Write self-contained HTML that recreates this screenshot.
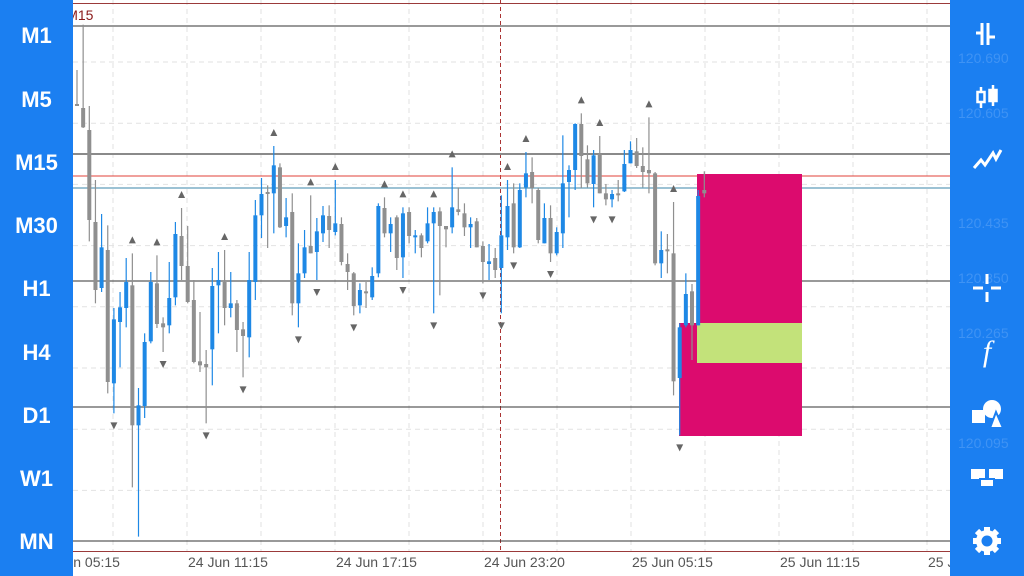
<!DOCTYPE html>
<html><head><meta charset="utf-8"><style>
html,body{margin:0;padding:0;width:1024px;height:576px;overflow:hidden;background:#fff;font-family:"Liberation Sans",sans-serif}
#chart{position:absolute;left:0;top:0}
.panel{position:absolute;top:0;height:576px;background:#1b7ff1}
.tf{position:absolute;left:0;width:73px;text-align:center;color:#fff;font-weight:bold;font-size:22px}
.ic{position:absolute;left:950px;width:74px;height:40px;display:flex;align-items:center;justify-content:center}
.pl{position:absolute;left:958px;color:#3f93f4;font-size:14px}
</style></head><body>
<svg id="chart" width="1024" height="576" xmlns="http://www.w3.org/2000/svg"></svg>

<div class="panel" style="left:0;width:73px">
<div class="tf" style="top:23px">M1</div>
<div class="tf" style="top:87px">M5</div>
<div class="tf" style="top:150px">M15</div>
<div class="tf" style="top:213px">M30</div>
<div class="tf" style="top:276px">H1</div>
<div class="tf" style="top:340px">H4</div>
<div class="tf" style="top:403px">D1</div>
<div class="tf" style="top:466px">W1</div>
<div class="tf" style="top:529px">MN</div>
</div>

<div class="panel" style="left:950px;width:74px"></div>
<div class="pl" style="top:50px">120.690</div>
<div class="pl" style="top:105px">120.605</div>
<div class="pl" style="top:215px">120.435</div>
<div class="pl" style="top:270px">120.350</div>
<div class="pl" style="top:325px">120.265</div>
<div class="pl" style="top:435px">120.095</div>

<div class="ic" style="top:14px"><svg width="30" height="30"><g stroke="#fff" stroke-width="3" fill="none"><path d="M10 4V26M4 14H10M16 4V26M16 18H23"/></g></svg></div>
<div class="ic" style="top:77px"><svg width="30" height="30"><g stroke="#fff" stroke-width="2.5" fill="none"><path d="M9 5V26M21 3V24"/><rect x="5.5" y="10" width="7" height="10" fill="#1b7ff1"/><rect x="17.5" y="8" width="7" height="11" fill="#fff"/></g></svg></div>
<div class="ic" style="top:139px"><svg width="32" height="30"><path d="M3 24L10 16L14 21L22 9L25 15L30 6" stroke="#fff" stroke-width="3" fill="none"/></svg></div>
<div class="ic" style="top:268px"><svg width="32" height="32"><path d="M16 2V12M16 20V30M2 16H12M20 16H30" stroke="#fff" stroke-width="3"/></svg></div>
<div class="ic" style="top:332px;color:#fff;font-size:30px;font-style:italic;font-family:'Liberation Serif',serif">f</div>
<div class="ic" style="top:394px"><svg width="34" height="32"><rect x="2" y="12" width="13" height="13" fill="#fff"/><circle cx="22" cy="11" r="9" fill="#fff"/><path d="M20 30L26 14L33 30Z" fill="#fff" stroke="#1b7ff1" stroke-width="2"/></svg></div>
<div class="ic" style="top:458px"><svg width="34" height="26"><rect x="1" y="4" width="14" height="10" fill="#fff"/><rect x="19" y="4" width="14" height="10" fill="#fff"/><rect x="10" y="14" width="14" height="8" fill="#fff" stroke="#1b7ff1" stroke-width="2"/></svg></div>
<div class="ic" style="top:521px"><svg width="32" height="32"><g fill="#fff"><circle cx="16" cy="16" r="11"/><g stroke="#fff" stroke-width="6"><path d="M16 2V30M2 16H30M6 6L26 26M26 6L6 26"/></g></g><circle cx="16" cy="16" r="5.5" fill="#1b7ff1"/></svg></div>

<script>
const opens=[120.621,120.615,120.582,120.444,120.345,120.402,120.202,120.294,120.315,120.349,120.139,120.168,120.265,120.352,120.292,120.289,120.331,120.423,120.378,120.327,120.235,120.231,120.253,120.349,120.354,120.315,120.322,120.283,120.271,120.354,120.454,120.489,120.487,120.526,120.438,120.459,120.322,120.367,120.408,120.399,120.427,120.453,120.429,120.441,120.381,120.367,120.319,120.340,120.331,120.367,120.465,120.427,120.451,120.391,120.459,120.421,120.424,120.415,120.442,120.460,120.438,120.436,120.463,120.457,120.436,120.445,120.408,120.381,120.390,120.375,120.421,120.472,120.406,120.496,120.519,120.492,120.412,120.450,120.397,120.427,120.504,120.522,120.591,120.538,120.501,120.546,120.487,120.478,120.487,120.490,120.532,120.550,120.528,120.522,120.517,120.382,120.403,120.397,120.210,120.289,120.340,120.289,120.492];
const highs=[120.672,120.740,120.618,120.507,120.456,120.439,120.315,120.339,120.390,120.397,120.195,120.277,120.369,120.394,120.301,120.384,120.444,120.465,120.438,120.357,120.309,120.252,120.375,120.399,120.402,120.369,120.327,120.294,120.399,120.477,120.510,120.499,120.558,120.532,120.480,120.487,120.412,120.432,120.484,120.450,120.468,120.469,120.507,120.451,120.397,120.369,120.352,120.354,120.376,120.472,120.481,120.451,120.454,120.466,120.466,120.432,120.427,120.466,120.466,120.466,120.438,120.526,120.496,120.472,120.451,120.450,120.415,120.411,120.405,120.484,120.507,120.502,120.502,120.549,120.541,120.495,120.472,120.469,120.436,120.574,120.529,120.592,120.607,120.559,120.552,120.573,120.501,120.492,120.507,120.552,120.565,120.570,120.556,120.601,120.519,120.430,120.426,120.474,120.292,120.367,120.351,120.492,120.520];
const lows=[120.618,120.585,120.415,120.322,120.339,120.187,120.157,120.226,120.286,120.046,119.972,120.150,120.262,120.285,120.249,120.277,120.319,120.357,120.322,120.232,120.219,120.142,120.199,120.277,120.289,120.301,120.249,120.211,120.241,120.327,120.420,120.405,120.427,120.435,120.421,120.304,120.286,120.360,120.397,120.357,120.414,120.405,120.424,120.379,120.342,120.304,120.307,120.315,120.327,120.361,120.421,120.399,120.372,120.360,120.412,120.397,120.391,120.412,120.307,120.334,120.406,120.427,120.454,120.423,120.405,120.406,120.352,120.357,120.360,120.307,120.402,120.397,120.405,120.481,120.472,120.412,120.412,120.384,120.394,120.405,120.451,120.492,120.495,120.496,120.466,120.487,120.469,120.466,120.475,120.489,120.532,120.525,120.496,120.487,120.379,120.360,120.367,120.184,120.124,120.286,120.237,120.289,120.481];
const closes=[120.618,120.586,120.447,120.342,120.406,120.204,120.298,120.316,120.354,120.139,120.169,120.264,120.354,120.291,120.286,120.330,120.426,120.378,120.324,120.234,120.229,120.226,120.348,120.357,120.315,120.322,120.282,120.273,120.357,120.454,120.486,120.486,120.529,120.436,120.451,120.322,120.367,120.406,120.397,120.430,120.454,120.432,120.442,120.384,120.369,120.318,120.342,120.337,120.363,120.468,120.427,120.441,120.390,120.457,120.423,120.424,120.405,120.442,120.459,120.438,120.433,120.466,120.459,120.436,120.441,120.406,120.384,120.385,120.372,120.424,120.468,120.406,120.492,120.517,120.495,120.417,120.450,120.397,120.429,120.502,120.522,120.591,120.543,120.502,120.544,120.487,120.478,120.486,120.486,120.531,120.552,120.528,120.519,120.517,120.382,120.402,120.400,120.205,120.286,120.336,120.289,120.483,120.487];
const fractalUp=[9,13,17,24,32,38,42,50,53,58,61,70,73,82,85,93,97];
const fractalDown=[6,14,21,27,36,39,45,53,58,66,69,71,77,84,87,98];
const levelPrices=[120.738,120.546,120.3555,120.1665,119.9655];
const timeLabels=["24 Jun 05:15","24 Jun 11:15","24 Jun 17:15","24 Jun 23:20","25 Jun 05:15","25 Jun 11:15","25 Jun 17:15"];
const askPrice=120.513, bidPrice=120.495;

const NS="http://www.w3.org/2000/svg";
const svg=document.getElementById('chart');
const yS=p=>(120.777-p)/0.0015;
const xS=i=>77+6.15*i;
function mk(t,a,parent){const e=document.createElementNS(NS,t);for(const k in a)e.setAttribute(k,a[k]);(parent||svg).appendChild(e);return e;}

for(let x=39;x<950;x+=74){const g=mk('line',{x1:x,x2:x,y1:0,y2:551,stroke:'#e2e2e2','stroke-dasharray':'5,4'});

}
for(let y=62;y<551;y+=61.2){const g=mk('line',{x1:73,x2:950,y1:y,y2:y,stroke:'#e2e2e2','stroke-dasharray':'5,4'});

}

let b1=mk('line',{x1:0,x2:1024,y1:3.5,y2:3.5,stroke:'#9b3a3a'});


let b2=mk('line',{x1:0,x2:1024,y1:551.5,y2:551.5,stroke:'#9b3a3a'});



let sep=mk('line',{x1:500.5,x2:500.5,y1:0,y2:551,stroke:'#a33',"stroke-dasharray":'4,3'});



levelPrices.forEach((p,i)=>{const l=mk('line',{x1:73,x2:950,y1:yS(p),y2:yS(p),stroke:i==1?'#8a8a8a':'#333','stroke-width':i==1?2:1});

});
let ask=mk('line',{x1:73,x2:950,y1:yS(askPrice),y2:yS(askPrice),stroke:'#e0403a'});


let bid=mk('line',{x1:73,x2:950,y1:yS(bidPrice),y2:yS(bidPrice),stroke:'#3a86a8'});



let p1=mk('rect',{x:697,y:174,width:105,height:262,fill:'#dc0b6e'});


let p2=mk('rect',{x:679,y:323,width:20,height:113,fill:'#dc0b6e'});


let g1=mk('rect',{x:697,y:323,width:105,height:40,fill:'#c3e27a'});



for(let i=0;i<opens.length;i++){
  const up=closes[i]>=opens[i];const col=up?'#1e88e5':'#8f8f8f';const x=xS(i);
  const w=mk('line',{x1:x,x2:x,y1:yS(highs[i]),y2:yS(lows[i]),stroke:col,'stroke-width':1.2});
  
  
  const top=yS(Math.max(opens[i],closes[i])),bot=yS(Math.min(opens[i],closes[i]));
  const r=mk('rect',{x:x-2,y:top,width:4,height:Math.max(2,bot-top),fill:col});
  
  
}
fractalUp.forEach(i=>{const x=xS(i),y=yS(highs[i])-13;const t=mk('path',{d:`M${x-3.5} ${y+3}L${x+3.5} ${y+3}L${x} ${y-4}Z`,fill:'#666'});

});
fractalDown.forEach(i=>{const x=xS(i),y=yS(lows[i])+12;const t=mk('path',{d:`M${x-3.5} ${y-3}L${x+3.5} ${y-3}L${x} ${y+4}Z`,fill:'#666'});

});

timeLabels.forEach((s,i)=>{const t=mk('text',{x:39+148*i+(i==0?0:1),y:567,'font-size':14,fill:'#555','font-family':'Liberation Sans, sans-serif'});t.textContent=s;

});
const title=mk('text',{x:5,y:20,'font-size':14,fill:'#8b1a1a'});title.textContent='EURJPY, M15';


</script>
</body></html>
